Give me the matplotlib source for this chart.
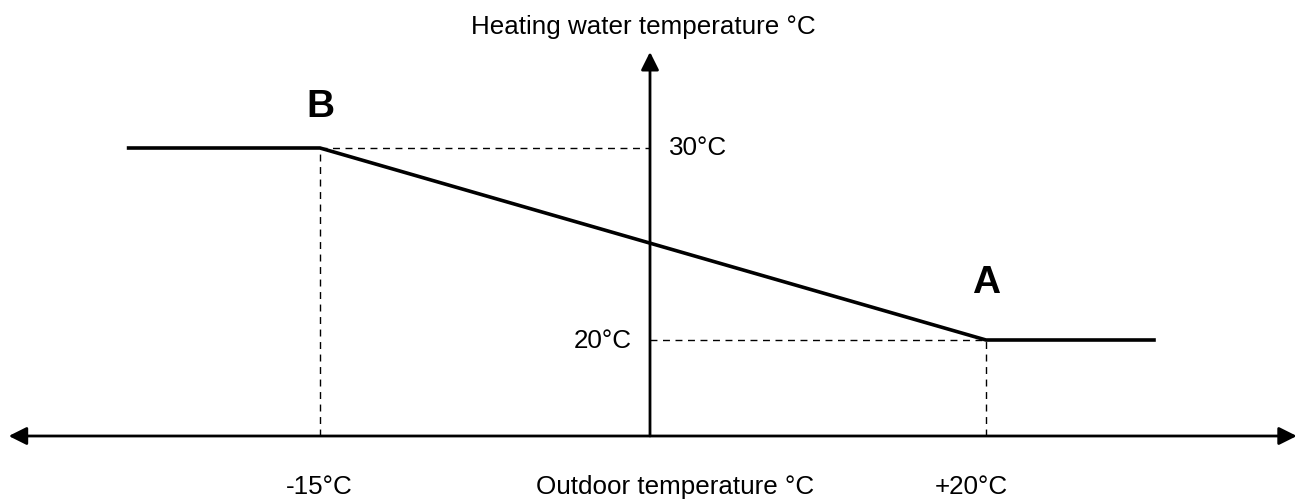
import numpy as np
import matplotlib
matplotlib.use("Agg")
import matplotlib.pyplot as plt

plt.rcParams['font.family'] = ['Liberation Sans', 'DejaVu Sans']

# Heating curve (schematic)
outdoor_temp = [-23.7, -15, 20, 30]     # °C
water_temp = [30, 30, 20, 20]           # °C
point_B = (-15, 30)
point_A = (20, 20)
axis_y_level = 15      # where the outdoor axis is drawn
x_tick_labels = ["-15°C", "+20°C"]
y_tick_labels = ["30°C", "20°C"]

K_NEG, K_POS = 22.0, 16.8

def fwd(x):
    x = np.asarray(x, dtype=float)
    return np.where(x < 0, x * K_NEG, x * K_POS)

def inv(p):
    p = np.asarray(p, dtype=float)
    return np.where(p < 0, p / K_NEG, p / K_POS)

fig = plt.figure(figsize=(13.01, 5.0), dpi=100)
ax = fig.add_axes([0, 0, 1, 1])
ax.set_xscale('function', functions=(fwd, inv))
ax.set_xlim(-650 / K_NEG, 651 / K_POS)
ax.set_ylim(20 - 160 / 19.2, 30 + 148 / 19.2)
ax.axis('off')

# axes arrows
ax.annotate('', xy=(38.5, axis_y_level), xytext=(-29.15, axis_y_level),
            arrowprops=dict(arrowstyle='<|-|>', mutation_scale=27, lw=2.0,
                            color='black', shrinkA=0, shrinkB=0))
ax.annotate('', xy=(0, 35.0), xytext=(0, axis_y_level),
            arrowprops=dict(arrowstyle='-|>', mutation_scale=27, lw=2.0,
                            color='black', shrinkA=0, shrinkB=0))

# dashed guides
dash = dict(color='black', lw=1.0, ls=(0, (5, 4)))
ax.plot([point_B[0], point_B[0]], [axis_y_level, point_B[1]], **dash)
ax.plot([point_B[0], 0], [point_B[1], point_B[1]], **dash)
ax.plot([point_A[0], point_A[0]], [axis_y_level, point_A[1]], **dash)
ax.plot([0, point_A[0]], [point_A[1], point_A[1]], **dash)

# heating curve
ax.plot(outdoor_temp, water_temp, color='black', lw=2.6, solid_joinstyle='miter')

fs = 18.7
ax.text(-15.05, 11.98, x_tick_labels[0], ha='center', va='baseline', fontsize=fs)
ax.text(19.1, 11.98, x_tick_labels[1], ha='center', va='baseline', fontsize=fs)
ax.text(1.49, 11.98, "Outdoor temperature °C", ha='center', va='baseline', fontsize=fs)
ax.text(-0.32, 35.94, "Heating water temperature °C", ha='center', va='baseline', fontsize=fs)
ax.text(1.15, 29.64, y_tick_labels[0], ha='left', va='baseline', fontsize=fs)
ax.text(-0.82, 19.58, y_tick_labels[1], ha='right', va='baseline', fontsize=fs)
ax.text(point_B[0], 31.61, "B", ha='center', va='baseline', fontsize=28, fontweight='bold')
ax.text(point_A[0], 22.45, "A", ha='center', va='baseline', fontsize=28, fontweight='bold')

fig.savefig("out.png", dpi=100)
